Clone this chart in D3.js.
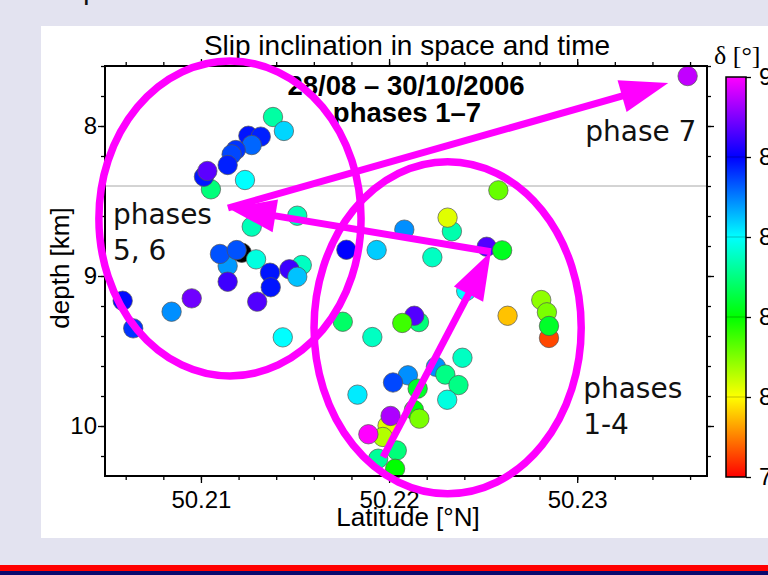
<!DOCTYPE html>
<html>
<head>
<meta charset="utf-8">
<script src="https://cdn.jsdelivr.net/npm/d3@7"></script>
<style>
  html, body { margin: 0; padding: 0; background: #e3e3f0; }
  svg { display: block; }
</style>
</head>
<body>
<svg id="fig" width="768" height="575"></svg>
<script>
// Hypocentres of the 28/08 - 30/10/2006 sequence:
// latitude (°N), depth (km) and slip inclination delta (°)
const latitude = [
  50.21383, 50.21441, 50.21252, 50.21318, 50.21270, 50.21185, 50.21163, 50.21142,
  50.21053, 50.21016, 50.21034, 50.21234, 50.21512, 50.21270,
  50.20584, 50.20640, 50.20844, 50.20951, 50.21142, 50.21217, 50.21101, 50.21190,
  50.21293, 50.21142, 50.21367, 50.21371, 50.21299, 50.21536, 50.21470, 50.21512, 50.21435,
  50.22581, 50.22334, 50.22311, 50.22081, 50.21773, 50.21934, 50.22230, 50.22519, 50.22601,
  50.22410, 50.22809, 50.22839, 50.22850, 50.22850, 50.22630, 50.21754, 50.22159, 50.22134,
  50.22070, 50.21911, 50.22390, 50.22249, 50.22299, 50.22369, 50.22309, 50.22100, 50.22021,
  50.22152, 50.21832, 50.22132, 50.22161, 50.21992, 50.22008, 50.21967, 50.21890, 50.21942,
  50.22041, 50.22032, 50.23587
];
const depthKm = [
  7.940, 8.033, 8.065, 8.071, 8.127, 8.160, 8.189, 8.260,
  8.422, 8.338, 8.300, 8.360, 8.598, 8.671,
  9.165, 9.349, 9.238, 9.149, 8.933, 8.845, 8.853, 8.827,
  8.889, 9.038, 8.978, 9.075, 9.171, 8.927, 8.955, 9.005, 9.409,
  8.429, 8.702, 8.611, 8.691, 8.825, 8.827, 8.875, 8.805, 8.829,
  9.100, 9.160, 9.242, 9.413, 9.333, 9.265, 9.305, 9.307, 9.265,
  9.313, 9.407, 9.545, 9.605, 9.657, 9.727, 9.825, 9.662, 9.710,
  9.751, 9.791, 9.893, 9.951, 9.997, 9.933, 10.073, 10.055, 10.218,
  10.163, 10.285, 7.667
];
const delta = [
  84.1, 85.4, 87.3, 87.2, 86.5, 87.0, 86.8, 87.2,
  83.7, 87.3, 88.4, 85.0, 84.3, 84.3,
  87.4, 87.0, 86.1, 88.6, 86.0, 77.0, 86.7, 86.7,
  84.7, 88.1, 87.3, 87.3, 88.3, 84.4, 88.1, 85.6, 85.0,
  81.5, 84.2, 80.3, 86.1, 87.5, 85.5, 84.4, 88.3, 82.8,
  85.0, 81.1, 81.3, 78.2, 82.9, 79.4, 83.5, 83.7, 88.3,
  81.9, 84.4, 84.4, 86.1, 83.8, 83.8, 84.7, 86.1, 86.8,
  82.9, 85.2, 82.6, 81.3, 80.3, 89.2, 80.75, 90.0, 84.0,
  83.7, 82.5, 89.4
];

// Axis ticks and labels
const latTicks = [50.21, 50.22, 50.23];
const depthTicks = [8, 9, 10];
const deltaTicks = [77.5, 80, 82.5, 85, 87.5, 90];
const deltaTickLabels = ["77.5", "80", "82.5", "85", "87.5", "90"];
const refDepth = 8.4;

// Phase groupings drawn over the section (centre lat, centre depth, half-width lat, half-height km)
const phaseEllipses = [
  [50.211543, 8.6167, 0.006968, 1.050],
  [50.223112, 9.3447, 0.007101, 1.1067]
];
// Migration arrows: from (lat, depth) to (lat, depth)
const phaseArrows = [
  [50.219681, 10.2067, 50.225410, 8.838],
  [50.225410, 8.838, 50.211436, 8.5467],
  [50.211436, 8.5467, 50.234840, 7.7133]
];
const phaseLabels = [
  { lat: 50.230426, depth: 8.100, lines: ["phase 7"] },
  { lat: 50.205319, depth: 8.6533, lines: ["phases", "5, 6"] },
  { lat: 50.230319, depth: 9.8133, lines: ["phases", "1-4"] }
];

const svg = d3.select("#fig");
const W = 768, H = 575;
const sans = "'Liberation Sans', Arial, Helvetica, sans-serif";
const slideFont = "'DejaVu Sans', Verdana, sans-serif";
const MAGENTA = "#ff00ff";

// slide background, white figure panel and footer stripes
svg.append("rect").attr("width", W).attr("height", H).attr("fill", "#e3e3f0");
svg.append("text").attr("x", 82.5).attr("y", -1.5)
  .attr("font-family", slideFont).attr("font-size", 28).attr("fill", "#111").text("p");
svg.append("rect").attr("x", 41).attr("y", 26).attr("width", W - 41).attr("height", 512).attr("fill", "#fff");
svg.append("rect").attr("x", 0).attr("y", 565).attr("width", W).attr("height", 6).attr("fill", "#ff0000");
svg.append("rect").attr("x", 0).attr("y", 571).attr("width", W).attr("height", 4).attr("fill", "#0a0a6e");

const x = d3.scaleLinear().domain([50.2049, 50.2369]).range([105, 707]);
const y = d3.scaleLinear().domain([7.6, 10.3333]).range([66, 476]);
const [x0, x1] = x.range();
const [y0, y1] = y.range();

const color = d3.scaleLinear()
  .domain(deltaTicks)
  .range(["#ff0000", "#ffff00", "#00ff00", "#00ffff", "#0000ff", "#ff00ff"])
  .clamp(true);
const fillFor = v => (v < deltaTicks[0] ? "#000000" : color(v));

// reference depth line
svg.append("line")
  .attr("x1", x0).attr("x2", x1)
  .attr("y1", y(refDepth)).attr("y2", y(refDepth))
  .attr("stroke", "#a8a8a8").attr("stroke-width", 1);

// hypocentres
svg.append("g").selectAll("circle")
  .data(d3.range(latitude.length))
  .join("circle")
  .attr("cx", i => x(latitude[i]))
  .attr("cy", i => y(depthKm[i]))
  .attr("r", 9.7)
  .attr("fill", i => fillFor(delta[i]))
  .attr("stroke", "#555")
  .attr("stroke-width", 0.7);

// frame axes with major and minor ticks on all four sides
const minorLat = d3.range(50.206, 50.2365, 0.002);
const minorDepth = d3.range(7.6, 10.31, 0.2);

function styleAxis(g) {
  g.select(".domain").remove();
  g.selectAll(".tick line").attr("stroke", "#000").attr("stroke-width", 1.3);
  g.selectAll("text").attr("font-family", sans).attr("font-size", 24).attr("fill", "#000");
}
const fmtLat = d3.format(".2f");

svg.append("g").attr("transform", `translate(0,${y1})`)
  .call(d3.axisBottom(x).tickValues(minorLat).tickSize(4).tickFormat("")).call(styleAxis);
svg.append("g").attr("transform", `translate(0,${y1})`)
  .call(d3.axisBottom(x).tickValues(latTicks).tickSize(7).tickPadding(8).tickFormat(fmtLat)).call(styleAxis);
svg.append("g").attr("transform", `translate(0,${y0})`)
  .call(d3.axisTop(x).tickValues(minorLat).tickSize(4).tickFormat("")).call(styleAxis);
svg.append("g").attr("transform", `translate(0,${y0})`)
  .call(d3.axisTop(x).tickValues(latTicks).tickSize(7).tickFormat("")).call(styleAxis);

svg.append("g").attr("transform", `translate(${x0},0)`)
  .call(d3.axisLeft(y).tickValues(minorDepth).tickSize(4).tickFormat("")).call(styleAxis);
svg.append("g").attr("transform", `translate(${x0},0)`)
  .call(d3.axisLeft(y).tickValues(depthTicks).tickSize(7).tickPadding(1).tickFormat(d3.format("d"))).call(styleAxis);
svg.append("g").attr("transform", `translate(${x1},0)`)
  .call(d3.axisRight(y).tickValues(minorDepth).tickSize(4).tickFormat("")).call(styleAxis);
svg.append("g").attr("transform", `translate(${x1},0)`)
  .call(d3.axisRight(y).tickValues(depthTicks).tickSize(7).tickFormat("")).call(styleAxis);

svg.append("rect")
  .attr("x", x0).attr("y", y0).attr("width", x1 - x0).attr("height", y1 - y0)
  .attr("fill", "none").attr("stroke", "#000").attr("stroke-width", 2);

// titles and axis labels
svg.append("text").attr("x", 407).attr("y", 55).attr("text-anchor", "middle")
  .attr("font-family", sans).attr("font-size", 28).text("Slip inclination in space and time");
svg.append("text").attr("x", 406).attr("y", 95).attr("text-anchor", "middle")
  .attr("font-family", sans).attr("font-size", 27.5).attr("font-weight", "bold").text("28/08 \u2013 30/10/2006");
svg.append("text").attr("x", 407).attr("y", 122).attr("text-anchor", "middle")
  .attr("font-family", sans).attr("font-size", 27.5).attr("font-weight", "bold").text("phases 1\u20137");
svg.append("text").attr("x", 408).attr("y", 526).attr("text-anchor", "middle")
  .attr("font-family", sans).attr("font-size", 26).text("Latitude [\u00b0N]");
svg.append("text").attr("transform", "translate(69,268) rotate(-90)").attr("text-anchor", "middle")
  .attr("font-family", sans).attr("font-size", 26).text("depth [km]");

// colour bar
const cb = d3.scaleLinear().domain([deltaTicks[0], deltaTicks[deltaTicks.length - 1]]).range([477, 77]);
const cbX = 726, cbW = 20;
const grad = svg.append("defs").append("linearGradient")
  .attr("id", "deltaGrad").attr("x1", 0).attr("y1", 1).attr("x2", 0).attr("y2", 0);
grad.selectAll("stop").data(deltaTicks).join("stop")
  .attr("offset", d => (d - deltaTicks[0]) / (deltaTicks[deltaTicks.length - 1] - deltaTicks[0]))
  .attr("stop-color", d => color(d));
svg.append("rect").attr("x", cbX).attr("y", cb.range()[1]).attr("width", cbW)
  .attr("height", cb.range()[0] - cb.range()[1]).attr("fill", "url(#deltaGrad)");
svg.append("g").selectAll("line").data(deltaTicks.slice(1, -1)).join("line")
  .attr("x1", cbX).attr("x2", cbX + cbW).attr("y1", d => cb(d)).attr("y2", d => cb(d))
  .attr("stroke", "#000").attr("stroke-opacity", 0.25).attr("stroke-width", 1);
svg.append("rect").attr("x", cbX).attr("y", cb.range()[1]).attr("width", cbW)
  .attr("height", cb.range()[0] - cb.range()[1]).attr("fill", "none")
  .attr("stroke", "#000").attr("stroke-width", 1.5);
svg.append("g").attr("transform", `translate(${cbX + cbW},0)`)
  .call(d3.axisRight(cb).tickValues(deltaTicks).tickSize(5).tickPadding(8)
    .tickFormat((d, i) => deltaTickLabels[i]))
  .call(styleAxis);
svg.append("text").attr("x", 714).attr("y", 64)
  .attr("font-family", "'Liberation Serif', 'Times New Roman', serif").attr("font-size", 26)
  .text("\u03b4 [\u00b0]");

// phase annotations
const ann = svg.append("g");
ann.selectAll("ellipse").data(phaseEllipses).join("ellipse")
  .attr("cx", d => x(d[0])).attr("cy", d => y(d[1]))
  .attr("rx", d => x(d[0] + d[2]) - x(d[0]))
  .attr("ry", d => y(d[1] + d[3]) - y(d[1]))
  .attr("fill", "none").attr("stroke", MAGENTA).attr("stroke-width", 7.5);

const headLen = 48, headHalf = 16.5;
phaseArrows.forEach(a => {
  const sx = x(a[0]), sy = y(a[1]), tx = x(a[2]), ty = y(a[3]);
  const len = Math.hypot(tx - sx, ty - sy);
  const ux = (tx - sx) / len, uy = (ty - sy) / len;
  const nx = -uy, ny = ux;
  const bx = tx - headLen * ux, by = ty - headLen * uy;
  ann.append("line")
    .attr("x1", sx).attr("y1", sy).attr("x2", bx + 6 * ux).attr("y2", by + 6 * uy)
    .attr("stroke", MAGENTA).attr("stroke-width", 7);
  ann.append("path")
    .attr("d", `M${tx},${ty}L${bx + headHalf * nx},${by + headHalf * ny}L${bx - headHalf * nx},${by - headHalf * ny}Z`)
    .attr("fill", MAGENTA);
});

phaseLabels.forEach(l => {
  const t = svg.append("text").attr("font-family", slideFont).attr("font-size", 28).attr("fill", "#111");
  l.lines.forEach((s, i) => {
    t.append("tspan").attr("x", x(l.lat)).attr("y", y(l.depth) + i * 36).text(s);
  });
});
</script>
</body>
</html>
